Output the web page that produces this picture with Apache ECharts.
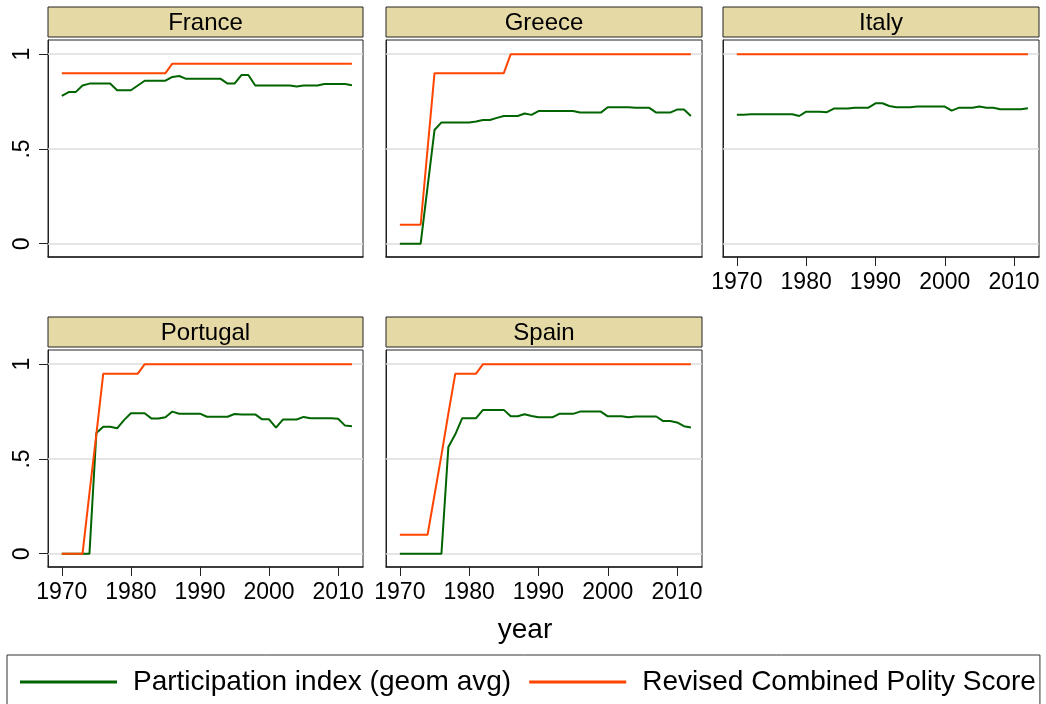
<!DOCTYPE html>
<html>
<head>
<meta charset="utf-8">
<script src="https://cdn.jsdelivr.net/npm/echarts@6/dist/echarts.min.js"></script>
<style>
html,body{margin:0;padding:0;background:#fff;}
#chart{width:1046px;height:704px;}
</style>
</head>
<body>
<div id="chart"></div>
<script>
// ---- data ----
const years = [1970,1971,1972,1973,1974,1975,1976,1977,1978,1979,
  1980,1981,1982,1983,1984,1985,1986,1987,1988,1989,
  1990,1991,1992,1993,1994,1995,1996,1997,1998,1999,
  2000,2001,2002,2003,2004,2005,2006,2007,2008,2009,
  2010,2011,2012];

const countries = ["France","Greece","Italy","Portugal","Spain"];
const seriesNames = ["Participation index (geom avg)","Revised Combined Polity Score"];

const franceParticipation = [.78,.80,.80,.835,.845,.845,.845,.845,.81,.81,
  .81,.835,.86,.86,.86,.86,.88,.885,.87,.87,
  .87,.87,.87,.87,.845,.845,.89,.89,.835,.835,
  .835,.835,.835,.835,.83,.835,.835,.835,.843,.843,
  .843,.843,.836];
const francePolity = [.9,.9,.9,.9,.9,.9,.9,.9,.9,.9,
  .9,.9,.9,.9,.9,.9,.95,.95,.95,.95,
  .95,.95,.95,.95,.95,.95,.95,.95,.95,.95,
  .95,.95,.95,.95,.95,.95,.95,.95,.95,.95,
  .95,.95,.95];

const greeceParticipation = [0,0,0,0,.30,.60,.64,.64,.64,.64,
  .64,.645,.653,.653,.664,.674,.674,.674,.687,.68,
  .70,.70,.70,.70,.70,.70,.692,.692,.692,.692,
  .72,.72,.72,.72,.717,.717,.717,.692,.692,.692,
  .708,.708,.674];
const greecePolity = [.1,.1,.1,.1,.5,.9,.9,.9,.9,.9,
  .9,.9,.9,.9,.9,.9,1,1,1,1,
  1,1,1,1,1,1,1,1,1,1,
  1,1,1,1,1,1,1,1,1,1,
  1,1,1];

const italyParticipation = [.68,.68,.683,.683,.683,.683,.683,.683,.683,.674,
  .697,.697,.697,.694,.713,.713,.713,.718,.718,.718,
  .741,.741,.727,.72,.72,.72,.724,.724,.724,.724,
  .724,.702,.717,.717,.717,.724,.718,.718,.71,.71,
  .71,.71,.715];
const italyPolity = [1,1,1,1,1,1,1,1,1,1,
  1,1,1,1,1,1,1,1,1,1,
  1,1,1,1,1,1,1,1,1,1,
  1,1,1,1,1,1,1,1,1,1,
  1,1,1];

const portugalParticipation = [0,0,0,0,0,.637,.67,.67,.662,.705,
  .741,.741,.741,.713,.713,.72,.75,.739,.739,.739,
  .739,.723,.723,.723,.723,.737,.735,.735,.735,.709,
  .709,.665,.708,.708,.708,.722,.715,.715,.715,.715,
  .712,.676,.673];
const portugalPolity = [0,0,0,0,.32,.63,.95,.95,.95,.95,
  .95,.95,1,1,1,1,1,1,1,1,
  1,1,1,1,1,1,1,1,1,1,
  1,1,1,1,1,1,1,1,1,1,
  1,1,1];

const spainParticipation = [0,0,0,0,0,0,0,.563,.63,.715,
  .715,.715,.759,.759,.759,.759,.725,.725,.736,.727,
  .72,.72,.72,.738,.738,.738,.75,.75,.75,.75,
  .725,.725,.725,.72,.724,.724,.724,.724,.70,.70,
  .693,.673,.666];
const spainPolity = [.1,.1,.1,.1,.1,.31,.52,.74,.95,.95,
  .95,.95,1,1,1,1,1,1,1,1,
  1,1,1,1,1,1,1,1,1,1,
  1,1,1,1,1,1,1,1,1,1,
  1,1,1];

const xTickValues = [1970,1980,1990,2000,2010];
const yTickValues = [0,0.5,1];
const yTickLabels = ["0",".5","1"];
const gridLineValues = [0,0.5,1];
const xTitle = "year";

// ---- layout / style ----
const participation = [franceParticipation,greeceParticipation,italyParticipation,portugalParticipation,spainParticipation];
const polity = [francePolity,greecePolity,italyPolity,portugalPolity,spainPolity];
const panels = [
  {left:48,  top:40,  width:315, height:217, xLabels:false, yLabels:true},
  {left:386, top:40,  width:316, height:217, xLabels:false, yLabels:false},
  {left:723, top:40,  width:316, height:217, xLabels:true,  yLabels:false},
  {left:48,  top:350, width:315, height:217, xLabels:true,  yLabels:true},
  {left:386, top:350, width:316, height:217, xLabels:true,  yLabels:false}
];
const GREEN = '#006400', ORANGE = '#FF4500';
const FONT = '"Liberation Sans", Arial, Helvetica, sans-serif';

const grid = [], xAxis = [], yAxis = [], series = [], graphic = [];
panels.forEach((p, i) => {
  grid.push({left:p.left, top:p.top, width:p.width, height:p.height,
    show:true, borderColor:'#222', borderWidth:1, backgroundColor:'#fff'});
  const xa = {
    type:'value', gridIndex:i, min:1968, max:2013.6,
    splitLine:{show:false},
    axisLine:{show:true, onZero:false, lineStyle:{color:'#222', width:1.5}},
    axisTick:{show:p.xLabels, length:9, lineStyle:{color:'#222', width:1}, customValues:xTickValues},
    axisLabel:{show:p.xLabels, customValues:xTickValues, fontSize:23, margin:14, color:'#000', fontFamily:FONT,
      formatter:(v)=>String(v)}
  };
  if (i === 4) {
    xa.name = xTitle;
    xa.nameLocation = 'middle';
    xa.nameGap = 49;
    xa.nameTextStyle = {fontSize:28, color:'#000', fontFamily:FONT, padding:[0,38,0,0]};
  }
  xAxis.push(xa);
  yAxis.push({
    type:'value', gridIndex:i, min:-0.07, max:1.075,
    splitLine:{show:false},
    axisLine:{show:true, onZero:false, lineStyle:{color:'#222', width:1}},
    axisTick:{show:p.yLabels, length:9, lineStyle:{color:'#222', width:1}, customValues:yTickValues},
    axisLabel:{show:p.yLabels, customValues:yTickValues, rotate:90, fontSize:23, margin:14, color:'#000', fontFamily:FONT,
      formatter:(v)=>{const k = yTickValues.indexOf(v); return k>=0 ? yTickLabels[k] : '';}}
  });
  series.push({
    type:'line', name:'_grid', xAxisIndex:i, yAxisIndex:i, data:[], z:1, silent:true,
    markLine:{silent:true, z:1, symbol:['none','none'], label:{show:false}, animation:false,
      lineStyle:{color:'#DCDCDC', width:1.5, type:'solid'},
      data:gridLineValues.map(v=>({yAxis:v}))}
  });
  series.push({
    type:'line', name:seriesNames[0], xAxisIndex:i, yAxisIndex:i, z:10,
    data:years.map((y,k)=>[y, participation[i][k]]),
    showSymbol:false, symbol:'none', lineStyle:{color:GREEN, width:2}, itemStyle:{color:GREEN}
  });
  series.push({
    type:'line', name:seriesNames[1], xAxisIndex:i, yAxisIndex:i, z:10,
    data:years.map((y,k)=>[y, polity[i][k]]),
    showSymbol:false, symbol:'none', lineStyle:{color:ORANGE, width:2}, itemStyle:{color:ORANGE}
  });
  graphic.push({
    type:'rect', shape:{x:p.left, y:p.top-33, width:p.width, height:30},
    style:{fill:'#E5D9A5', stroke:'#222', lineWidth:1}, z:10
  });
  graphic.push({
    type:'text', x:p.left + p.width/2, y:p.top-17, z:11,
    style:{text:countries[i], fill:'#000', font:'24px ' + FONT, textAlign:'center', textVerticalAlign:'middle'}
  });
});

const chart = echarts.init(document.getElementById('chart'), null, {renderer:'canvas'});
chart.setOption({
  animation:false,
  backgroundColor:'#fff',
  textStyle:{fontFamily:FONT},
  grid, xAxis, yAxis, series, graphic,
  legend:{
    data:[{name:seriesNames[0], icon:'rect', itemStyle:{color:GREEN}},
          {name:seriesNames[1], icon:'rect', itemStyle:{color:ORANGE}}],
    left:7, top:655, orient:'horizontal',
    itemWidth:97, itemHeight:3, itemGap:18,
    padding:[13,4,13,13],
    borderColor:'#333', borderWidth:1,
    textStyle:{fontSize:28, color:'#000', fontFamily:FONT, padding:[0,0,0,11]},
    selectedMode:false
  }
});
</script>
</body>
</html>
